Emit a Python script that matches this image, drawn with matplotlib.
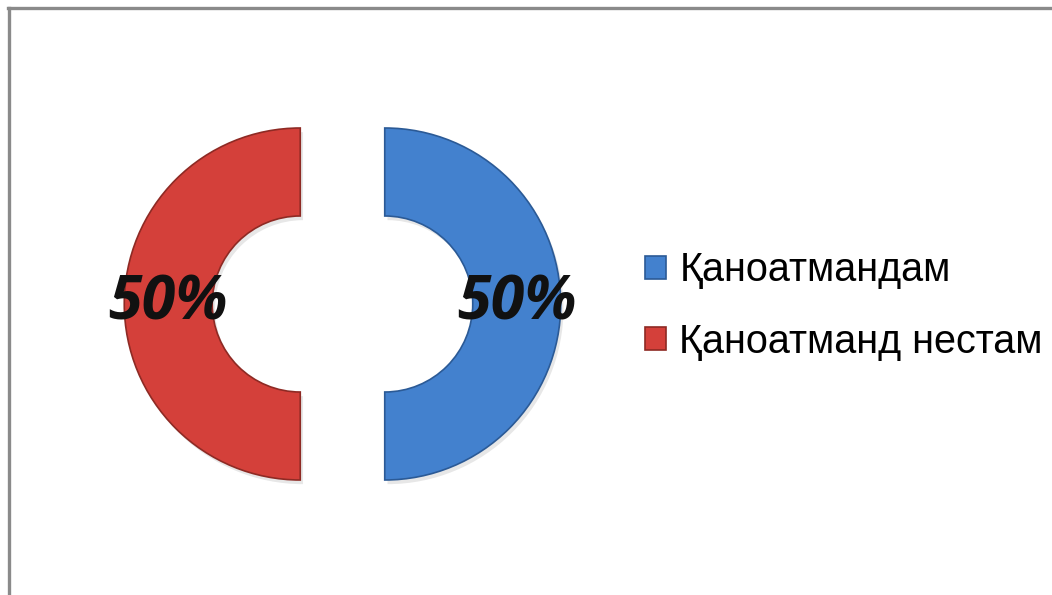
import matplotlib
matplotlib.use('Agg')
import matplotlib.pyplot as plt
import matplotlib.patheffects as pe
from matplotlib.lines import Line2D

# данные диаграммы
labels = ['Қаноатмандам', 'Қаноатманд нестам']
values = [50, 50]
colors = ['#4381CE', '#D4403A']
edges = ['#2B5A96', '#8E2A24']

plt.rcParams['font.family'] = ['Liberation Sans', 'DejaVu Sans']

fig = plt.figure(figsize=(10.52, 5.95), dpi=100)
ax = fig.add_axes([0, 0, 1, 1])

wedges, texts, autotexts = ax.pie(
    values, colors=colors, startangle=90, counterclock=False,
    explode=[0.24, 0.24], radius=1.0, autopct='%1.0f%%', pctdistance=0.75,
    wedgeprops=dict(width=0.5, linewidth=1.2),
    textprops=dict(color='black'))
for t in autotexts:
    t.set_fontfamily(['Open Sans', 'DejaVu Sans'])
    t.set_fontweight('bold')
    t.set_fontstyle('italic')
    t.set_fontsize(44)
    t.set_color('#111111')

# 176 px на единицу радиуса, центр между половинками в (342.5, 304)
s = 176.0
ax.set_aspect('auto')
ax.set_xlim(-342.5 / s, (1052 - 342.5) / s)
ax.set_ylim(-(595 - 304) / s, 304 / s)
ax.axis('off')

leg = fig.legend(wedges, labels, loc='center left',
                 bbox_to_anchor=(645 / 1052, (595 - 306) / 595),
                 frameon=False, fontsize=28.5, handlelength=0.52, handleheight=0.52,
                 handletextpad=0.35, labelspacing=0.85, borderpad=0, borderaxespad=0)
for h, e in zip(leg.legend_handles, edges):
    h.set_edgecolor(e)

# кольцо: тёмная кромка и мягкая тень
for w, e in zip(wedges, edges):
    w.set_edgecolor(e)
    w.set_path_effects([pe.SimplePatchShadow(offset=(2, -3), shadow_rgbFace='#888888', alpha=0.2),
                        pe.Normal()])

# рамка страницы
fig.add_artist(Line2D([8 / 1052, 1], [1 - 7.5 / 595, 1 - 7.5 / 595],
                      transform=fig.transFigure, color='#8a8a8a', lw=2.4))
fig.add_artist(Line2D([8.5 / 1052, 8.5 / 1052], [0, 1 - 7.5 / 595],
                      transform=fig.transFigure, color='#8a8a8a', lw=2.4))

fig.savefig('out.png', dpi=100, facecolor='white')
